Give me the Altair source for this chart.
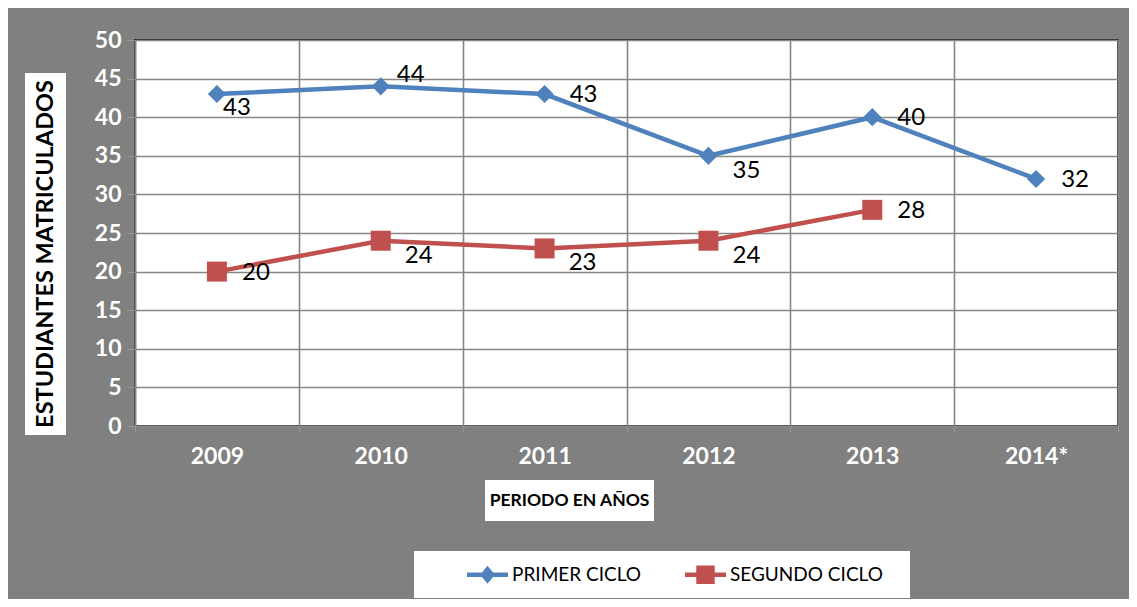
import altair as alt
import pandas as pd

years = ["2009", "2010", "2011", "2012", "2013", "2014*"]
primer = [43, 44, 43, 35, 40, 32]
segundo = [20, 24, 23, 24, 28, None]
series_names = ["PRIMER CICLO", "SEGUNDO CICLO"]
colors = ["#4F81BD", "#C0504D"]

# label placement kinds (style only)
primer_lbl = ["b", "ar", "r", "br", "r", "r"]
segundo_lbl = ["r", "br", "br", "br", "r", "r"]

rows = []
for i, y in enumerate(years):
    rows.append({"year": y, "serie": series_names[0], "v": primer[i], "lp": primer_lbl[i]})
    if segundo[i] is not None:
        rows.append({"year": y, "serie": series_names[1], "v": segundo[i], "lp": segundo_lbl[i]})
df = pd.DataFrame(rows)

FONT = "Lato"
W, H = 983, 386

xenc = alt.X("year:N", sort=years,
             scale=alt.Scale(type="band", paddingInner=0, paddingOuter=0),
             axis=alt.Axis(title=None, tickBand="extent", labelAngle=0,
                           labelColor="white", labelFont=FONT, labelFontSize=23,
                           labelFontWeight="bold", labelPadding=13,
                           grid=True, gridColor="#868686", gridWidth=1.6,
                           domainColor="#868686", domainWidth=1.6,
                           tickColor="#9a9a9a", tickSize=6, tickWidth=1))
yenc = alt.Y("v:Q", scale=alt.Scale(domain=[0, 50], nice=False, zero=True),
             axis=alt.Axis(title=None, values=list(range(0, 51, 5)),
                           labelColor="white", labelFont=FONT, labelFontSize=23,
                           labelFontWeight="bold", labelPadding=6,
                           grid=True, gridColor="#868686", gridWidth=1.6,
                           domainColor="#868686", domainWidth=1.6,
                           tickColor="#9a9a9a", tickSize=8, tickWidth=1))

base = alt.Chart(df)

leg_paths = [
    "M-1,-0.11L1,-0.11L1,0.11L-1,0.11Z M0,-0.44L0.36,0L0,0.44L-0.36,0Z",
    "M-1,-0.11L1,-0.11L1,0.11L-1,0.11Z M-0.45,-0.45L0.45,-0.45L0.45,0.45L-0.45,0.45Z",
]
shape_expr = ("datum.value === '%s' ? '%s' : '%s'"
              % (series_names[0], leg_paths[0], leg_paths[1]))
fill_expr = ("datum.value === '%s' ? '%s' : '%s'"
             % (series_names[0], colors[0], colors[1]))

legend = alt.Legend(
    title=None, orient="none", legendX=332, legendY=514,
    direction="horizontal", symbolSize=1681, symbolStrokeWidth=0,
    symbolOpacity=1, symbolType=alt.ExprRef(expr=shape_expr),
    symbolFillColor=alt.ExprRef(expr=fill_expr),
    labelFont=FONT, labelFontSize=19, labelColor="black", labelLimit=400,
    labelOffset=4, columnPadding=43, padding=0)

cscale = alt.Scale(domain=series_names, range=colors)

lines = base.mark_line(strokeWidth=4.5).encode(
    x=xenc, y=yenc, color=alt.Color("serie:N", scale=cscale, legend=legend))

pts_p = base.transform_filter(alt.datum.serie == series_names[0]).mark_point(
    shape="diamond", filled=True, size=330, opacity=1, color=colors[0]).encode(
    x=xenc, y=yenc)
pts_s = base.transform_filter(alt.datum.serie == series_names[1]).mark_point(
    shape="square", filled=True, size=400, opacity=1, color=colors[1]).encode(
    x=xenc, y=yenc)

offsets = {"r": (39, 1), "br": (38, 15), "b": (20, 14), "ar": (30, -11)}
label_layers = []
for k, (dx, dy) in offsets.items():
    label_layers.append(
        base.transform_filter(alt.datum.lp == k).mark_text(
            dx=dx, dy=dy, font=FONT, fontSize=24, color="black",
            align="center", baseline="middle").encode(
            x=xenc, y=yenc, text="v:Q"))

# decorative boxes for titles and legend background
ybox = alt.Chart(pd.DataFrame({"t": ["ESTUDIANTES MATRICULADOS"]}))
ytitle_box = ybox.mark_rect(color="white").encode(
    x=alt.value(-110), x2=alt.value(-69), y=alt.value(33), y2=alt.value(395))
ytitle = ybox.mark_text(angle=270, font=FONT, fontSize=23.5, fontWeight="bold",
                        color="black", align="center", baseline="middle").encode(
    x=alt.value(-89), y=alt.value(214), text="t:N")

xbox = alt.Chart(pd.DataFrame({"t": ["PERIODO EN AÑOS"]}))
xtitle_box = xbox.mark_rect(color="white").encode(
    x=alt.value(350), x2=alt.value(519), y=alt.value(440), y2=alt.value(481))
xtitle = xbox.mark_text(font=FONT, fontSize=17.5, fontWeight="bold",
                        color="black", align="center", baseline="middle").encode(
    x=alt.value(434.5), y=alt.value(461), text="t:N")

legbox = alt.Chart(pd.DataFrame({"t": ["legend"]})).mark_rect(color="white").encode(
    x=alt.value(279), x2=alt.value(775), y=alt.value(511), y2=alt.value(558))

chart = alt.layer(
    ytitle_box, ytitle, xtitle_box, xtitle, legbox,
    lines, pts_p, pts_s, *label_layers
).properties(
    width=W, height=H,
    autosize=alt.AutoSizeParams(type="none"),
    padding={"left": 127, "top": 32, "right": 11, "bottom": 173},
    background="#808080",
).configure_view(stroke="black", strokeWidth=1.5, fill="white", clip=False)

chart.save("out.html", embed_options={"renderer": "svg", "actions": False})
